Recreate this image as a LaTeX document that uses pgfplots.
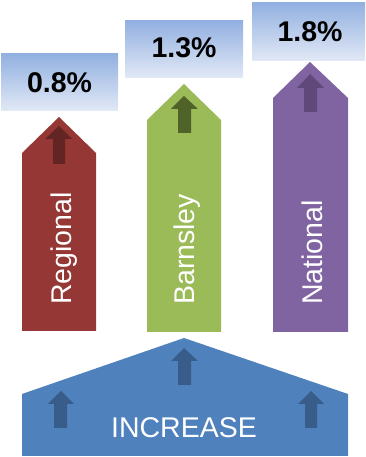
\documentclass[border=0pt]{standalone}
\usepackage{fontspec}
\setmainfont{Liberation Sans}
\usepackage{pgfplots}
\pgfplotsset{compat=1.18}
\definecolor{cred}{RGB}{149,55,53}
\definecolor{dred}{RGB}{99,37,35}
\definecolor{cgreen}{RGB}{155,187,89}
\definecolor{dgreen}{RGB}{79,98,40}
\definecolor{cpurple}{RGB}{128,100,162}
\definecolor{dpurple}{RGB}{96,73,122}
\definecolor{cblue}{RGB}{79,129,189}
\definecolor{dblue}{RGB}{56,93,138}
\definecolor{boxtop}{RGB}{146,176,224}
\definecolor{boxbot}{RGB}{226,233,246}
\begin{document}
\begin{tikzpicture}
\begin{axis}[x=1pt,y=1pt,xmin=0,xmax=366,ymin=0,ymax=457,
  hide axis,clip=false,scale only axis]
\path (axis cs:0,0) rectangle (axis cs:366,457);
% label boxes (value 0.8, 1.3, 1.8)
\addplot[draw=none,top color=boxtop,bottom color=boxbot] coordinates {(1,346)(118,346)(118,403)(1,403)} -- cycle;
\addplot[draw=none,top color=boxtop,bottom color=boxbot] coordinates {(125,379)(243,379)(243,436)(125,436)} -- cycle;
\addplot[draw=none,top color=boxtop,bottom color=boxbot] coordinates {(252,396)(365,396)(365,454)(252,454)} -- cycle;
% column arrows
\addplot[draw=none,fill=cred] coordinates {(22,126)(96,126)(96,304)(59,340)(22,304)} -- cycle;
\addplot[draw=none,fill=dred] coordinates {(53,293)(65,293)(65,318)(72,318)(59,331)(45,318)(53,318)} -- cycle;
\addplot[draw=none,fill=cgreen] coordinates {(147,125)(221,125)(221,337)(184,373)(147,337)} -- cycle;
\addplot[draw=none,fill=dgreen] coordinates {(178,324)(191,324)(191,348)(198,348)(184,361)(171,348)(178,348)} -- cycle;
\addplot[draw=none,fill=cpurple] coordinates {(273,125)(348,125)(348,359)(310,395)(273,359)} -- cycle;
\addplot[draw=none,fill=dpurple] coordinates {(304,345)(317,345)(317,369)(324,369)(310,383)(297,369)(304,369)} -- cycle;
% base
\addplot[draw=none,fill=cblue] coordinates {(22,1)(348,1)(348,63)(184,119)(22,63)} -- cycle;
\addplot[draw=none,fill=dblue] coordinates {(54,29)(67,29)(67,53)(74,53)(61,66)(48,53)(54,53)} -- cycle;
\addplot[draw=none,fill=dblue] coordinates {(178,72)(191,72)(191,96)(198,96)(184,109)(171,96)(178,96)} -- cycle;
\addplot[draw=none,fill=dblue] coordinates {(305,29)(317,29)(317,53)(324,53)(311,66)(298,53)(305,53)} -- cycle;
% texts
\node[font=\fontsize{28.5}{30}\selectfont\bfseries] at (axis cs:59.5,374.5) {0.8\%};
\node[font=\fontsize{28.5}{30}\selectfont\bfseries] at (axis cs:184,409.5) {1.3\%};
\node[font=\fontsize{28.5}{30}\selectfont\bfseries] at (axis cs:310,425.5) {1.8\%};
\node[font=\fontsize{28.5}{30}\selectfont,text=white,rotate=90,anchor=base west,inner sep=0pt] at (axis cs:71,152) {Regional};
\node[font=\fontsize{28.5}{30}\selectfont,text=white,rotate=90,anchor=base west,inner sep=0pt] at (axis cs:194,152) {Barnsley};
\node[font=\fontsize{28.5}{30}\selectfont,text=white,rotate=90,anchor=base west,inner sep=0pt] at (axis cs:322,152) {National};
\node[font=\fontsize{28.5}{30}\selectfont,text=white,anchor=base,inner sep=0pt] at (axis cs:184,19) {INCREASE};
\end{axis}
\end{tikzpicture}
\end{document}
